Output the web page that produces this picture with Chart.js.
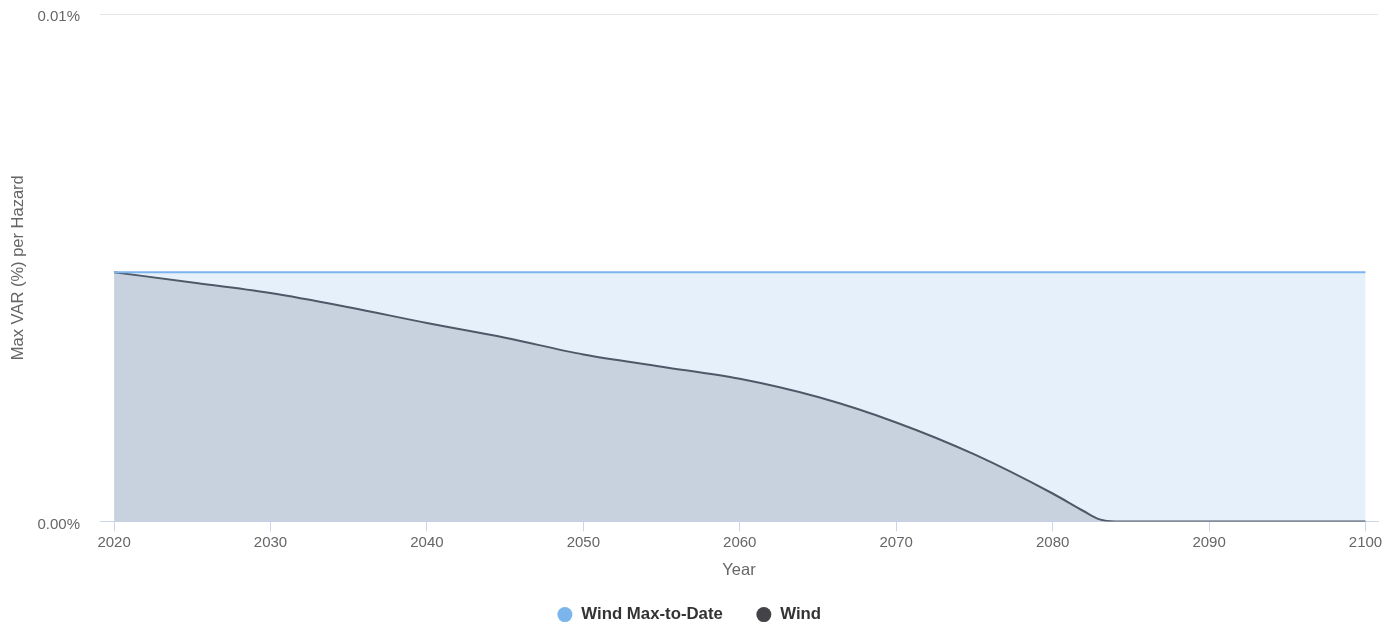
<!DOCTYPE html>
<html lang="en">
<head>
    <meta charset="UTF-8">
    <title>Max VAR per Hazard</title>
    <script src="https://cdnjs.cloudflare.com/ajax/libs/Chart.js/4.4.1/chart.umd.min.js"></script>
    <style>
        html, body { margin: 0; padding: 0; background: #fff; }
        .chart-container { width: 1395px; height: 626px; }
    </style>
</head>
<body>
    <div class="chart-container">
        <canvas id="chart"></canvas>
    </div>

    <script>
        // values in %
        const years = [2020, 2025, 2030, 2035, 2040, 2045, 2050, 2055, 2060, 2065, 2070, 2075, 2080, 2082, 2083, 2084, 2090, 2095, 2100];
        const windValues = [0.00491, 0.00471, 0.00450, 0.00422, 0.00391, 0.00362, 0.00329, 0.00305, 0.00281, 0.00245, 0.00195, 0.00132, 0.00055, 0.00020, 0.00004, 0, 0, 0, 0];
        const maxToDate = years.map(() => 0.00491);
        const yTicks = [0, 0.01];
        const xTicks = [2020, 2030, 2040, 2050, 2060, 2070, 2080, 2090, 2100];

        const fontFamily = '"Liberation Sans", Arial, sans-serif';

        new Chart(document.getElementById('chart'), {
            type: 'line',
            data: {
                datasets: [
                    {
                        label: 'Wind Max-to-Date',
                        data: years.map((y, i) => ({ x: y, y: maxToDate[i] })),
                        borderColor: '#7cb5ec',
                        backgroundColor: 'rgba(124,181,236,0.2)',
                        borderWidth: 2,
                        pointRadius: 0,
                        fill: 'origin'
                    },
                    {
                        label: 'Wind',
                        data: years.map((y, i) => ({ x: y, y: windValues[i] })),
                        borderColor: '#434348',
                        backgroundColor: 'rgba(67,67,72,0.2)',
                        borderWidth: 2,
                        pointRadius: 0,
                        cubicInterpolationMode: 'monotone',
                        fill: 'origin'
                    }
                ]
            },
            options: {
                responsive: true,
                maintainAspectRatio: false,
                animation: false,
                layout: { padding: { top: 14, right: 17, left: 0, bottom: -7 } },
                plugins: {
                    tooltip: { enabled: false },
                    legend: {
                        position: 'bottom',
                        labels: {
                            usePointStyle: true,
                            pointStyle: 'circle',
                            boxWidth: 16,
                            boxHeight: 10.6,
                            padding: 33,
                            color: '#333333',
                            font: { family: fontFamily, size: 16.8, weight: 'bold' },
                            generateLabels(chart) {
                                return chart.data.datasets.map((ds, i) => ({
                                    text: ds.label,
                                    fillStyle: ds.borderColor,
                                    strokeStyle: ds.borderColor,
                                    lineWidth: 0,
                                    pointStyle: 'circle',
                                    hidden: !chart.isDatasetVisible(i),
                                    datasetIndex: i,
                                    fontColor: '#333333'
                                }));
                            }
                        }
                    }
                },
                scales: {
                    x: {
                        type: 'linear',
                        min: 2019.1,
                        max: 2100.8,
                        afterBuildTicks(scale) {
                            scale.ticks = xTicks.map(v => ({ value: v }));
                        },
                        ticks: {
                            color: '#666666',
                            font: { family: fontFamily, size: 15 },
                            padding: 2,
                            maxRotation: 0,
                            callback: v => String(v)
                        },
                        grid: {
                            drawOnChartArea: false,
                            drawTicks: true,
                            tickLength: 10,
                            color: '#ccd6eb'
                        },
                        border: { color: '#ccd6eb', width: 1 },
                        title: {
                            display: true,
                            text: 'Year',
                            color: '#666666',
                            font: { family: fontFamily, size: 16.5 },
                            padding: { top: 7, bottom: -7 }
                        }
                    },
                    y: {
                        min: 0,
                        max: 0.01,
                        afterBuildTicks(scale) {
                            scale.ticks = yTicks.map(v => ({ value: v }));
                        },
                        afterFit(scale) {
                            scale.width = 100;
                            scale.paddingTop = 0;
                            scale.paddingBottom = 0;
                        },
                        ticks: {
                            color: '#666666',
                            font: { family: fontFamily, size: 15 },
                            padding: 20,
                            labelOffset: 3,
                            callback: v => v.toFixed(2) + '%'
                        },
                        grid: {
                            color: ctx => ctx.tick && ctx.tick.value === 0 ? 'rgba(0,0,0,0)' : '#e6e6e6',
                            drawTicks: false
                        },
                        border: { display: false },
                        title: {
                            display: true,
                            text: 'Max VAR (%) per Hazard',
                            color: '#666666',
                            font: { family: fontFamily, size: 16.5 },
                            padding: { top: 9, bottom: 0 }
                        }
                    }
                }
            }
        });
    </script>
</body>
</html>
